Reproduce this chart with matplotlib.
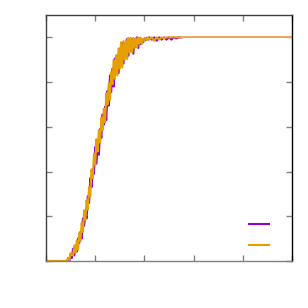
import numpy as np
import matplotlib
matplotlib.use("Agg")
import matplotlib.pyplot as plt

# x positions (shared by both series in the rising part)
x_vals = [0.0, 8.0, 8.5, 9.0, 9.5, 10.0, 10.5, 11.0, 11.5, 12.0, 12.5, 13.0, 13.5,
          14.0, 14.5, 15.0, 15.5, 16.0, 16.5, 17.0, 17.5, 18.0, 18.5, 19.0, 19.5,
          20.0, 20.5, 21.0, 21.5, 22.0, 22.5, 23.0, 23.5, 24.0, 24.5, 25.0, 25.5,
          26.0, 26.5, 27.0, 27.5, 28.0, 28.5, 29.0, 29.5, 30.0, 30.5, 31.0, 31.5,
          32.0, 32.5, 33.0, 33.5, 34.0, 34.5, 35.0, 35.5, 36.0, 36.5, 37.0, 37.5,
          38.0, 38.5, 39.0, 39.5, 40.0, 40.5, 41.0, 41.5, 42.0, 43.0, 44.0, 45.0,
          46.0, 47.0, 48.0, 49.0, 50.0, 51.0, 52.0, 53.0, 54.0, 55.0]

purple = [0.0, 0.0, 0.0, 0.01, 0.0, 0.03, 0.013, 0.055, 0.025, 0.068, 0.042, 0.10, 0.08,
          0.13, 0.10, 0.19, 0.157, 0.215, 0.19, 0.29, 0.26, 0.37, 0.33, 0.40, 0.39,
          0.51, 0.435, 0.52, 0.475, 0.59, 0.55, 0.655, 0.61, 0.69, 0.63, 0.76, 0.695,
          0.83, 0.755, 0.86, 0.78, 0.905, 0.84, 0.92, 0.84, 0.95, 0.878, 0.975, 0.883,
          0.97, 0.917, 0.993, 0.918, 0.993, 0.938, 0.993, 0.927, 0.992, 0.956, 1.0, 0.953,
          0.996, 0.969, 0.991, 0.978, 0.995, 0.987, 0.998, 0.99, 1.0, 0.99, 1.0, 0.985,
          1.0, 0.99, 1.0, 0.99, 1.0, 0.99, 1.0, 0.995, 1.0, 1.0]

orange = [0.0, 0.0, 0.0, 0.015, 0.005, 0.035, 0.028, 0.025, 0.07, 0.038, 0.092, 0.05, 0.125,
          0.09, 0.17, 0.13, 0.227, 0.185, 0.272, 0.23, 0.33, 0.29, 0.41, 0.37, 0.48,
          0.43, 0.545, 0.49, 0.585, 0.53, 0.64, 0.585, 0.68, 0.62, 0.75, 0.70, 0.795,
          0.72, 0.845, 0.79, 0.90, 0.815, 0.92, 0.83, 0.95, 0.86, 0.978, 0.865, 0.983,
          0.90, 0.987, 0.903, 0.998, 0.933, 0.998, 0.933, 0.997, 0.952, 0.996, 0.955, 0.998,
          0.971, 0.999, 0.971, 0.993, 0.985, 0.997, 0.988, 1.0, 0.99, 1.0, 0.985, 1.0,
          0.99, 1.0, 0.995, 1.0, 1.0, 1.0, 1.0, 1.0, 1.0, 1.0]

# orange carries on flat to the end of the axis
orange_tail_x = [55.0, 100.0]
orange_tail_y = [1.0, 1.0]

fig = plt.figure(figsize=(3.08, 3.08), dpi=100)
ax = fig.add_axes([46 / 308, 1 - 261 / 308, 246 / 308, 246 / 308])

ax.plot(x_vals, purple, color="#9400d3", lw=1.5, label=" ")
ax.plot(x_vals, orange, color="#e69f00", lw=1.5, label=" ")
ax.plot(orange_tail_x, orange_tail_y, color="#e8a860", lw=1.5)

ax.set_xlim(0, 100)
ax.set_ylim(0, 1.1)
ax.set_xticks([0, 20, 40, 60, 80, 100])
ax.set_yticks([0, 0.2, 0.4, 0.6, 0.8, 1.0])
ax.tick_params(direction="in", length=4, width=1, color="#808080",
               top=True, right=True, labelbottom=False, labelleft=False)

for s in ["left", "top"]:
    ax.spines[s].set_color("#404040")
ax.spines["right"].set_color("black")
ax.spines["bottom"].set_color("#808080")
for s in ax.spines.values():
    s.set_linewidth(1.0)

ax.legend(loc="lower right", frameon=False, handlelength=1.4,
          borderaxespad=0.15, labelspacing=0.54, handletextpad=0.8)

fig.savefig("out.png", dpi=100)
